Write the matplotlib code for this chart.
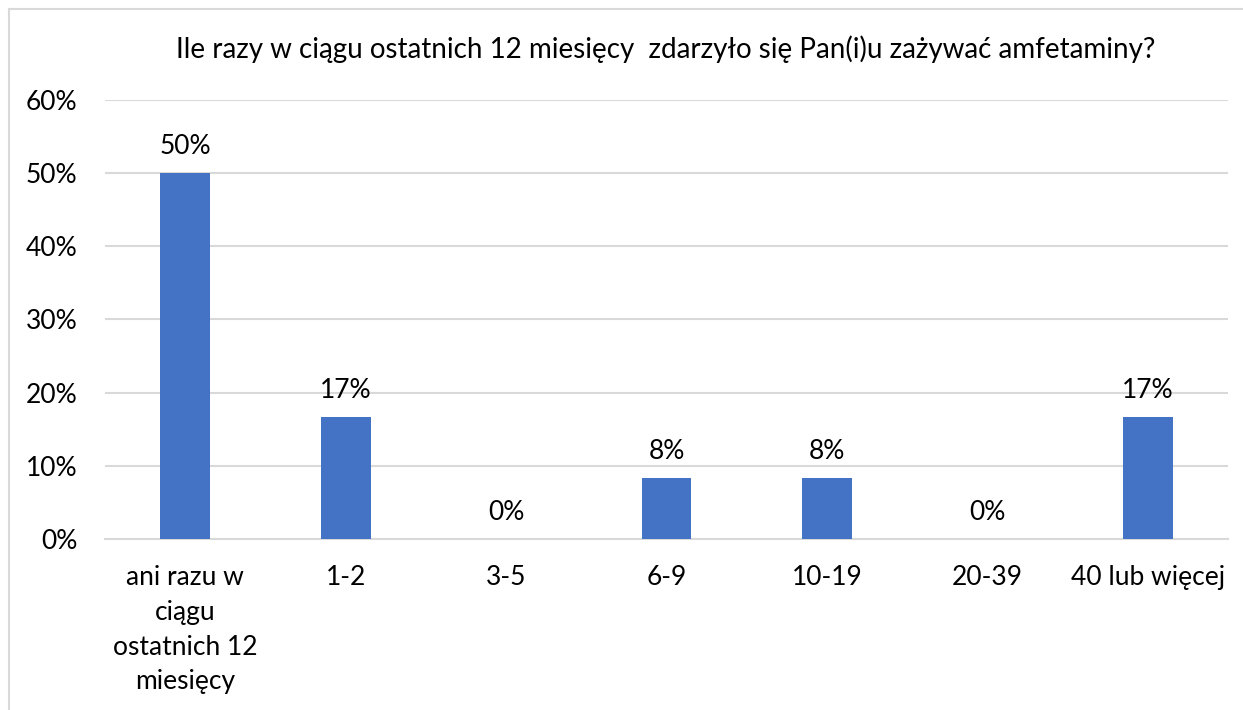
import matplotlib.pyplot as plt
from matplotlib.ticker import FuncFormatter, MultipleLocator
from matplotlib.lines import Line2D

categories = ["ani razu w\nciągu\nostatnich 12\nmiesięcy", "1-2", "3-5", "6-9",
              "10-19", "20-39", "40 lub więcej"]
values = [0.50, 0.167, 0.0, 0.083, 0.083, 0.0, 0.167]
labels = ["50%", "17%", "0%", "8%", "8%", "0%", "17%"]
title = "Ile razy w ciągu ostatnich 12 miesięcy  zdarzyło się Pan(i)u zażywać amfetaminy?"

plt.rcParams['font.family'] = ['Lato', 'DejaVu Sans']
W, H = 1243, 710
fig = plt.figure(figsize=(W / 100, H / 100), dpi=100)
ax = fig.add_axes([105 / W, 1 - 539 / H, (1228 - 105) / W, (539 - 100) / H])

x = range(len(categories))
ax.bar(x, values, width=0.31, color='#4472C4', zorder=3)
for i, v in enumerate(values):
    ax.annotate(labels[i], (i, v), xytext=(0, 10), textcoords='offset points',
                ha='center', va='bottom', fontsize=19, color='#000000')

ax.set_xlim(-0.5, len(categories) - 0.5)
ax.set_ylim(0, 0.6)
ax.yaxis.set_major_locator(MultipleLocator(0.1))
ax.yaxis.set_major_formatter(FuncFormatter(lambda v, p: f"{v * 100:.0f}%"))
ax.set_xticks(list(x))
ax.set_xticklabels(categories, fontsize=19, linespacing=1.48)
ax.tick_params(axis='y', labelsize=19, length=0, pad=20)
ax.tick_params(axis='x', length=0, pad=19)
ax.grid(axis='y', color='#D9D9D9', linewidth=1.5, zorder=0)
for s in ['top', 'right', 'left']:
    ax.spines[s].set_visible(False)
ax.spines['bottom'].set_color('#D9D9D9')
ax.spines['bottom'].set_linewidth(1.5)

fig.text(666 / W, 1 - 49 / H, title, ha='center', va='center', fontsize=20)

# chart frame (only left and top edges visible in crop)
fig.add_artist(Line2D([9 / W, 9 / W], [0, 1 - 9 / H], transform=fig.transFigure,
                      color='#D9D9D9', linewidth=1.5))
fig.add_artist(Line2D([9 / W, 1], [1 - 9 / H, 1 - 9 / H], transform=fig.transFigure,
                      color='#D9D9D9', linewidth=1.5))

fig.savefig('out.png', dpi=100)
